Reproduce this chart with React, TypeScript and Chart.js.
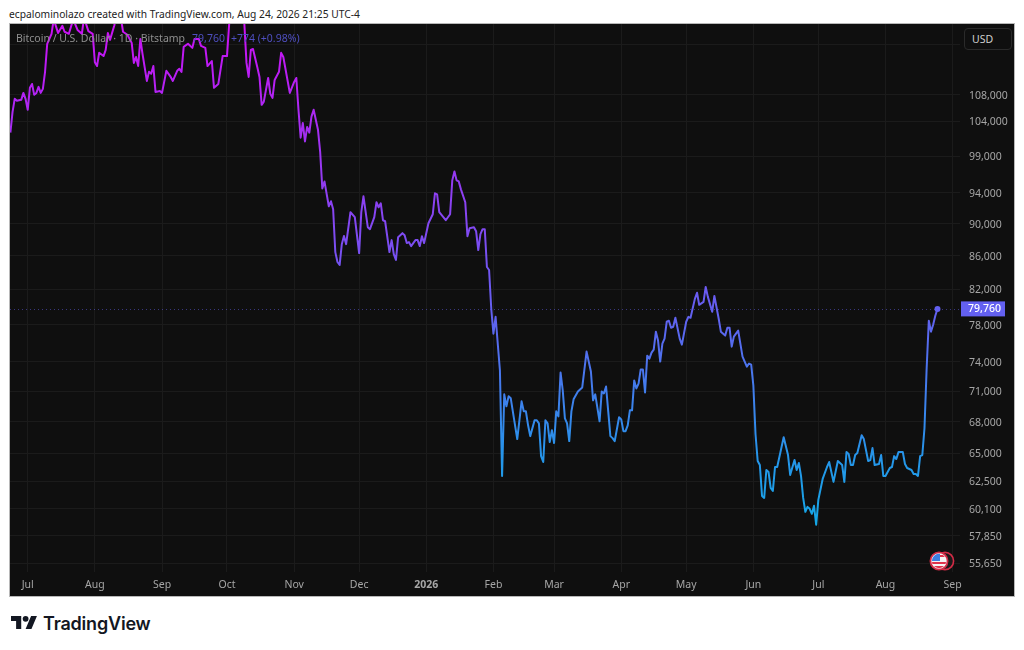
import React, { useEffect, useRef } from "react";
import { Chart, registerables } from "chart.js";

Chart.register(...registerables);

// Days counted from 2025-06-23
const days = [
  0,1,2,3,5,6,7,8,9,10,11,12,13,14,15,16,17,19,20,22,
  24,25,27,29,31,33,34,36,38,39,40,41,43,44,45,46,48,49,51,52,
  54,56,57,58,59,60,61,63,64,65,66,67,69,70,72,74,75,77,78,79,
  80,82,84,85,87,88,90,91,93,94,96,98,100,101,102,103,104,105,106,107,
  108,109,110,111,112,114,115,116,117,119,120,121,122,124,125,126,129,131,132,133,
  134,135,136,137,138,139,140,142,143,144,145,147,148,149,150,151,152,153,154,155,
  157,159,161,162,163,165,166,168,169,170,171,172,173,175,176,177,178,179,181,182,
  183,184,185,187,188,189,190,191,193,195,196,197,198,201,203,204,205,206,207,208,
  210,211,212,214,215,216,217,218,219,220,221,222,223,224,226,227,228,229,230,231,
  234,236,237,238,239,240,242,243,244,245,246,247,248,249,250,251,252,253,254,255,
  256,257,258,259,260,262,264,266,268,269,270,272,273,274,275,276,277,278,279,281,
  282,283,284,285,286,287,288,289,290,291,292,293,294,295,296,297,298,299,300,301,
  302,303,304,305,306,307,309,310,312,313,314,316,317,318,320,321,322,324,325,327,
  328,330,331,332,333,334,336,338,340,341,342,343,344,345,346,347,348,349,350,351,
  352,353,354,357,359,360,362,363,364,365,366,367,368,369,370,371,372,373,375,377,
  378,380,382,384,385,386,387,388,389,390,391,393,394,396,397,398,399,401,402,403,
  404,406,407,408,409,410,412,413,414,416,417,418,419,420,421,422,423,424,425,426,
  427,428,
];

const prices = [
  102370,105440,107390,107100,107240,108300,107390,105740,109080,109680,108000,108300,109230,108300,108920,111580,116100,117750,120200,117900,
  119100,118100,117750,120200,118400,117750,120500,118200,117750,113100,112500,114650,114100,115100,117900,116750,119200,121000,120500,118100,
  117600,116250,113000,113950,112500,116900,114450,110150,111580,111270,112500,108450,108600,108300,111740,110780,110150,111740,112060,111580,
  115600,116100,115430,116900,116900,115760,115430,112500,113300,109080,109680,114100,114100,119400,122500,124000,123000,125500,125000,122000,
  119500,113000,110780,115100,115260,112300,110780,106480,106970,110620,108150,107540,110300,111580,114620,113950,108300,110000,110620,105740,
  101640,103780,101110,103210,102370,104720,105740,102800,99670,94600,95540,92240,92890,91850,86440,85240,84870,87420,88440,87420,
  91460,90820,86320,91460,93550,89540,89290,90820,92760,92110,92630,90430,90300,86440,87920,86200,85480,88290,88790,88540,
  87550,87670,87180,87920,87920,87180,88410,87550,90050,91200,93940,93800,91460,90430,91200,95680,96900,95680,95540,94470,
  92760,88410,89420,89540,89040,86690,88660,89290,89290,84640,84280,79770,77010,78870,73100,62960,70670,69480,70470,70270,
  66330,69970,68990,68990,67640,66610,68120,68120,67830,64750,64210,68120,67830,66050,67170,65960,68990,68500,72890,71060,
  68310,67830,66140,68990,70170,70960,71360,75080,72990,70070,70670,68020,70960,70760,71460,68990,66610,66420,66140,68410,
  68210,67080,67080,67640,69090,69090,72080,71260,71760,73200,73200,70860,74650,74340,74970,75290,77230,76260,74030,75930,
  76470,78320,78430,77660,77770,78760,76470,75820,78320,78870,78760,80900,81600,80220,80560,82280,81130,79430,81240,78650,
  77230,76800,77660,77660,75610,76690,77340,74550,73500,73820,73710,71560,66790,64300,63940,61200,61030,63490,63310,61900,
  61640,63760,63760,66510,64850,63050,64390,63490,64120,62960,61030,59840,60260,60090,59670,60350,58760,60860,62690,63760,
  64210,62430,64300,63940,62430,65120,64940,63940,63940,64850,65030,66700,66330,64300,64390,65490,63940,64030,64850,62960,
  62960,63670,63760,64750,64480,65120,65120,64030,63670,63490,63140,63140,62960,64750,64850,67360,73300,78430,77230,77990,
  78986,79760,
];

const monthDays = [8,39,70,100,131,161,192,223,251,282,312,343,373,404,435];
const monthLabels = ["Jul","Aug","Sep","Oct","Nov","Dec","2026","Feb","Mar","Apr","May","Jun","Jul","Aug","Sep"];
const priceTicks = [116000,108000,104000,99000,94000,90000,86000,82000,78000,74000,71000,68000,65000,62500,60100,57850,55650];
const hiddenPriceLabels = [116000];

const lastPrice = prices[prices.length - 1];
const UI_FONT = '"Noto Sans", "Open Sans", sans-serif';
const ACCENT = "#6360f0";

const priceTagPlugin = {
  id: "priceTag",
  afterDatasetsDraw(chart: any) {
    const { ctx, chartArea, scales } = chart;
    const y = scales.y.getPixelForValue(lastPrice);
    ctx.save();
    ctx.strokeStyle = "rgba(99,96,240,0.5)";
    ctx.lineWidth = 1;
    ctx.setLineDash([1, 3]);
    ctx.beginPath();
    ctx.moveTo(chartArea.left, Math.round(y) + 0.5);
    ctx.lineTo(chartArea.right, Math.round(y) + 0.5);
    ctx.stroke();
    ctx.setLineDash([]);
    ctx.fillStyle = ACCENT;
    ctx.fillRect(chartArea.right + 1, y - 7.5, 44, 15);
    ctx.fillStyle = "#ffffff";
    ctx.font = `500 10.5px ${UI_FONT}`;
    ctx.textAlign = "left";
    ctx.textBaseline = "middle";
    ctx.fillText(lastPrice.toLocaleString("en-US"), chartArea.right + 8, y + 0.5);
    ctx.restore();
  },
};

export default function App() {
  const ref = useRef<HTMLCanvasElement>(null);

  useEffect(() => {
    document.body.style.margin = "0";
    const chart = new Chart(ref.current as HTMLCanvasElement, {
      type: "line",
      data: {
        datasets: [
          {
            data: days.map((d, i) => ({ x: d, y: prices[i] })),
            borderWidth: 2,
            tension: 0,
            borderJoinStyle: "round",
            borderColor: (c: any) => {
              const { ctx, chartArea } = c.chart;
              if (!chartArea) return ACCENT;
              const g = ctx.createLinearGradient(0, 0, 0, 504);
              g.addColorStop(0, "#cc10f5");
              g.addColorStop(0.57, ACCENT);
              g.addColorStop(0.85, "#2794ea");
              g.addColorStop(1, "#14a8e6");
              return g;
            },
            pointRadius: (c: any) => (c.dataIndex === days.length - 1 ? 3 : 0),
            pointBackgroundColor: ACCENT,
            pointBorderWidth: 0,
          },
        ],
      },
      options: {
        responsive: false,
        animation: false,
        events: [],
        layout: { padding: 0, autoPadding: false },
        plugins: { legend: { display: false }, tooltip: { enabled: false } },
        scales: {
          x: {
            type: "linear",
            min: -0.18,
            max: 438.4,
            afterBuildTicks: (s: any) => {
              s.ticks = monthDays.map((value) => ({ value }));
            },
            afterFit: (s: any) => {
              s.height = 24;
              s.paddingLeft = 0;
              s.paddingRight = 0;
            },
            grid: { color: "#1b1b1b", drawTicks: false },
            border: { display: false },
            ticks: {
              autoSkip: false,
              maxRotation: 0,
              padding: 7,
              color: "#a6a6a6",
              font: (c: any) => ({
                family: UI_FONT,
                size: 10.5,
                weight: monthLabels[c.index] === "2026" ? "bold" : "normal",
              }),
              callback: (v: any) => monthLabels[monthDays.indexOf(v)] ?? "",
            },
          },
          y: {
            type: "logarithmic",
            position: "right",
            min: 54950,
            max: 119400,
            afterBuildTicks: (s: any) => {
              s.ticks = priceTicks.map((value) => ({ value }));
            },
            afterFit: (s: any) => {
              s.width = 54;
              s.paddingTop = 0;
              s.paddingBottom = 0;
            },
            grid: { color: "#1b1b1b", drawTicks: false },
            border: { display: false },
            ticks: {
              autoSkip: false,
              padding: 9,
              crossAlign: "near",
              labelOffset: 1,
              color: "#a6a6a6",
              font: { family: UI_FONT, size: 10.5 },
              callback: (v: any) =>
                hiddenPriceLabels.includes(v) ? "" : Number(v).toLocaleString("en-US"),
            },
          },
        },
      },
      plugins: [priceTagPlugin],
    } as any);
    return () => chart.destroy();
  }, []);

  return (
    <div style={{ position: "relative", width: 1024, height: 650, background: "#fff", overflow: "hidden", fontFamily: UI_FONT }}>
      <div style={{ position: "absolute", left: 9, top: 6, fontSize: 10.25, lineHeight: "16px", color: "#222", whiteSpace: "nowrap" }}>
        ecpalominolazo created with TradingView.com, Aug 24, 2026 21:25 UTC-4
      </div>
      <div style={{ position: "absolute", left: 10, top: 24, width: 1004, height: 572, background: "#0f0f0f", outline: "1px solid #b8b8b8" }}>
        <canvas ref={ref} width={1004} height={572} style={{ display: "block" }} />
        <div style={{ position: "absolute", left: 6, top: 6, fontSize: 10.5, lineHeight: "16px", whiteSpace: "nowrap", color: "#8f8f8f" }}>
          Bitcoin / U.S. Dollar · 1D · Bitstamp
          <span style={{ color: "#4f4fc0", marginLeft: 7 }}>79,760</span>
          <span style={{ color: "#4f4fc0", marginLeft: 6 }}>+774 (+0.98%)</span>
        </div>
        <div style={{ position: "absolute", left: 954, top: 4, width: 48, height: 22, boxSizing: "border-box", border: "1px solid #2a2a2a", borderRadius: 4, background: "#0f0f0f", color: "#d0d0d0", fontSize: 10.5, lineHeight: "20px", paddingLeft: 7 }}>
          USD
        </div>
        <svg style={{ position: "absolute", left: 918, top: 525 }} width={28} height={24} viewBox="0 0 28 24">
          <circle cx="17" cy="12" r="8.6" fill="#1a1a1a" stroke="#d42b46" strokeWidth="1.6" />
          <circle cx="11" cy="12" r="8.6" fill="#f4f4f4" stroke="#d42b46" strokeWidth="1.8" />
          <clipPath id="flag"><circle cx="11" cy="12" r="7.2" /></clipPath>
          <g clipPath="url(#flag)">
            <rect x="3" y="13" width="18" height="2" fill="#e0334c" />
            <rect x="3" y="17" width="18" height="3" fill="#e0334c" />
            <rect x="3" y="3" width="9" height="9" fill="#3d7fe0" />
            <rect x="12" y="6" width="9" height="2" fill="#e0334c" />
          </g>
        </svg>
      </div>
      <svg style={{ position: "absolute", left: 11, top: 613 }} width={26.3} height={20.5} viewBox="0 0 36 28" fill="#131722">
        <path d="M14 22H7V11H0V4h14v18zM28 22h-8l7.5-18h8L28 22z" />
        <circle cx="20" cy="8" r="4" />
      </svg>
      <div style={{ position: "absolute", left: 43, top: 612, fontFamily: "Inter, sans-serif", fontWeight: 600, fontSize: 18, lineHeight: "24px", color: "#131722", letterSpacing: -0.2 }}>
        TradingView
      </div>
    </div>
  );
}
